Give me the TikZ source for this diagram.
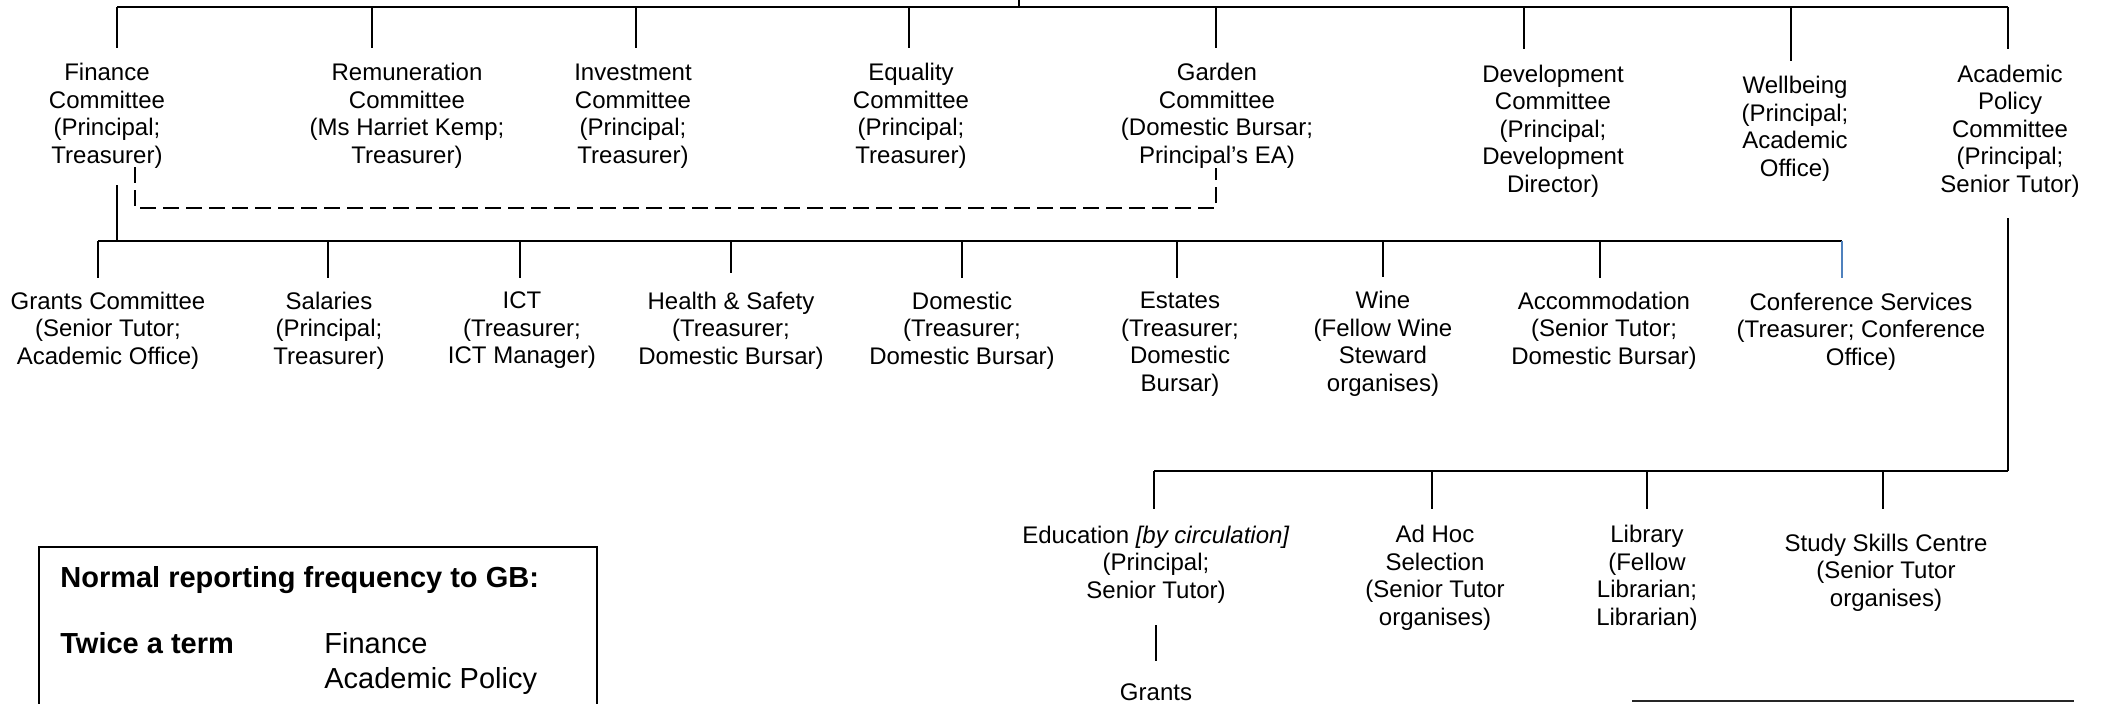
\documentclass[tikz,border=0pt]{standalone}
\usepackage{fontspec}
\setmainfont{Liberation Sans}
\begin{document}
\begin{tikzpicture}[x=0.5pt,y=-0.5pt,
  lbl/.style={align=center,inner sep=0pt,font=\fontsize{12}{13.75}\selectfont},
  bus/.style={line width=1pt},
  tick/.style={line width=0.7pt},
  dashline/.style={line width=0.75pt,dash pattern=on 8pt off 3.5pt},
  leg/.style={inner sep=0pt,anchor=base west,font=\fontsize{14.5}{17.5}\selectfont},
  legb/.style={leg,font=\fontsize{14.5}{17.5}\selectfont\bfseries}]
\useasboundingbox (0,0) rectangle (2101,703);
\clip (0,0) rectangle (2101,703);
\definecolor{tickblue}{RGB}{79,129,189}

% ---- level 1 nodes
\node[lbl] (fin) at (107,116) {Finance\\Committee\\(Principal;\\Treasurer)};
\node[lbl] (rem) at (407,116) {Remuneration\\Committee\\(Ms Harriet Kemp;\\Treasurer)};
\node[lbl] (inv) at (633,116) {Investment\\Committee\\(Principal;\\Treasurer)};
\node[lbl] (equ) at (911,116) {Equality\\Committee\\(Principal;\\Treasurer)};
\node[lbl] (gar) at (1217,116) {Garden\\Committee\\(Domestic Bursar;\\Principal’s EA)};
\node[lbl] (dev) at (1553,131) {Development\\Committee\\(Principal;\\Development\\Director)};
\node[lbl] (wel) at (1795,129) {Wellbeing\\(Principal;\\Academic\\Office)};
\node[lbl] (aca) at (2010,131) {Academic\\Policy\\Committee\\(Principal;\\Senior Tutor)};

% ---- level 1 bus
\coordinate (gb) at (1019,0);
\coordinate (p1) at (117,7);
\coordinate (p2) at (372,7);
\coordinate (p3) at (636,7);
\coordinate (p4) at (909,7);
\coordinate (p5) at (1216,7);
\coordinate (p6) at (1524,7);
\coordinate (p7) at (1791,7);
\coordinate (p8) at (2008,7);
\draw[bus] (p1) -- (p8);
\draw[tick] (gb) -- (gb |- p1);
\begin{scope}[tick,shorten >=7.75pt]
\draw (p1) -- (p1 |- fin.north);
\draw (p2) -- (p2 |- rem.north);
\draw (p3) -- (p3 |- inv.north);
\draw (p4) -- (p4 |- equ.north);
\draw (p5) -- (p5 |- gar.north);
\draw (p6) -- (p6 |- dev.north);
\draw (p7) -- (p7 |- wel.north);
\draw (p8) -- (p8 |- aca.north);
\end{scope}

% ---- dashed link Finance - Garden
\coordinate (d1) at (135,167);
\coordinate (dl) at (135,208);
\coordinate (dr) at (1216,208);
\coordinate (d2) at (1216,168);
\draw[dashline] (d1) -- (dl) -- (dr) -- (d2);

% ---- level 2 nodes
\node[lbl] (grc) at (108,330.5) {Grants Committee\\(Senior Tutor;\\Academic Office)};
\node[lbl] (sal) at (329,330.5) {Salaries\\(Principal;\\Treasurer)};
\node[lbl] (ict) at (522,330.5) {ICT\\(Treasurer;\\ICT Manager)};
\node[lbl] (hs)  at (731,330.5) {Health \& Safety\\(Treasurer;\\Domestic Bursar)};
\node[lbl] (dom) at (962,330.5) {Domestic\\(Treasurer;\\Domestic Bursar)};
\node[lbl] (est) at (1180,344) {Estates\\(Treasurer;\\Domestic\\Bursar)};
\node[lbl] (wine) at (1383,344) {Wine\\(Fellow Wine\\Steward\\organises)};
\node[lbl] (acc) at (1604,330.5) {Accommodation\\(Senior Tutor;\\Domestic Bursar)};
\node[lbl] (conf) at (1861,331.5) {Conference Services\\(Treasurer; Conference\\Office)};

% ---- level 2 bus
\coordinate (q0) at (117,241);
\coordinate (q1) at (98,241);
\coordinate (q2) at (328,241);
\coordinate (q3) at (520,241);
\coordinate (q4) at (731,241);
\coordinate (q5) at (962,241);
\coordinate (q6) at (1177,241);
\coordinate (q7) at (1383,241);
\coordinate (q8) at (1600,241);
\coordinate (q9) at (1842,241);
\draw[tick,shorten >=8.25pt] (q0) -- (q0 |- fin.south);
\draw[bus] (q1) -- (q9);
\begin{scope}[tick,shorten >=6.9pt]
\draw (q1) -- (q1 |- grc.north);
\draw (q2) -- (q2 |- sal.north);
\draw (q3) -- (q3 |- ict.north);
\draw[shorten >=9.4pt] (q4) -- (q4 |- hs.north);
\draw (q5) -- (q5 |- dom.north);
\draw (q6) -- (q6 |- est.north);
\draw (q7) -- (q7 |- wine.north);
\draw (q8) -- (q8 |- acc.north);
\draw[tickblue,line width=0.55pt,shorten >=7.4pt] (q9) -- (q9 |- conf.north);
\end{scope}

% ---- level 3 nodes
\node[lbl] (edu) at (1156,564.5) {Education \textit{[by circulation]}\\(Principal;\\Senior Tutor)};
\node[lbl] (adh) at (1435,578) {Ad Hoc\\Selection\\(Senior Tutor\\organises)};
\node[lbl] (lib) at (1647,578) {Library\\(Fellow\\Librarian;\\Librarian)};
\node[lbl] (ssc) at (1886,572.5) {Study Skills Centre\\(Senior Tutor\\organises)};
\node[lbl] (gra) at (1156,692) {Grants};

% ---- level 3 bus
\coordinate (r0) at (2008,471);
\coordinate (r1) at (1154,471);
\coordinate (r2) at (1432,471);
\coordinate (r3) at (1647,471);
\coordinate (r4) at (1883,471);
\draw[tick,shorten >=10pt] (r0) -- (r0 |- aca.south);
\draw[bus] (r1) -- (r0);
\begin{scope}[tick]
\draw[shorten >=8.4pt] (r1) -- (r1 |- edu.north);
\draw[shorten >=8.3pt] (r2) -- (r2 |- adh.north);
\draw[shorten >=8.3pt] (r3) -- (r3 |- lib.north);
\draw[shorten >=12.4pt] (r4) -- (r4 |- ssc.north);
\draw[shorten <=10.9pt,shorten >=11pt] (edu.south) -- (gra.north);
\end{scope}

% ---- box edge at bottom right
\coordinate (e1) at (1632,701);
\coordinate (e2) at (2074,701);
\draw[line width=1.2pt,black!85] (e1) -- (e2);

% ---- legend
\coordinate (k1) at (39,712);
\coordinate (k2) at (39,547);
\coordinate (k3) at (597,547);
\coordinate (k4) at (597,712);
\draw[line width=0.8pt] (k1) -- (k2) -- (k3) -- (k4);
\node[legb] (lh) at (60,587.5) {Normal reporting frequency to GB:};
\node[legb] (lt) at (60,653.5) {Twice a term};
\node[leg] (lf) at (324,653.5) {Finance};
\node[leg] (la) at (324,688.5) {Academic Policy};
\end{tikzpicture}
\end{document}
